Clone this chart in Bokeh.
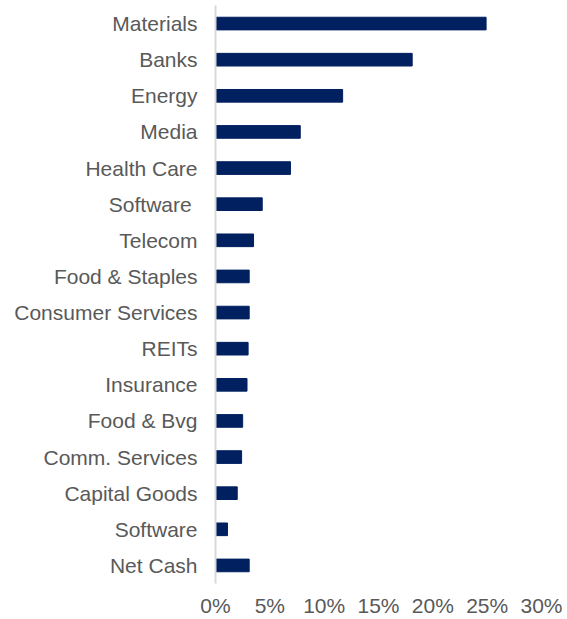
from bokeh.plotting import figure
from bokeh.models import FactorRange, Range1d, FixedTicker, PrintfTickFormatter
from bokeh.embed import file_html
from bokeh.resources import INLINE

categories = ["Materials", "Banks", "Energy", "Media", "Health Care", "Software ",
              "Telecom", "Food & Staples", "Consumer Services", "REITs", "Insurance",
              "Food & Bvg", "Comm. Services", "Capital Goods", "Software", "Net Cash"]
weights = [24.9, 18.1, 11.7, 7.8, 6.9, 4.3, 3.5, 3.1, 3.1, 3.0, 2.9, 2.5, 2.4, 2.0, 1.1, 3.1]
x_ticks = [0, 5, 10, 15, 20, 25, 30]

p = figure(width=567, height=619, output_backend="svg", toolbar_location=None,
           y_range=FactorRange(factors=list(reversed(categories)), range_padding=0),
           x_range=Range1d(0, 30),
           min_border_left=215, min_border_right=26, min_border_top=5, min_border_bottom=34)

p.hbar(y=categories, right=weights, left=0, height=0.35, color="#002060")

p.outline_line_color = None
p.xgrid.visible = False
p.ygrid.visible = False

p.xaxis.ticker = FixedTicker(ticks=x_ticks)
p.xaxis.formatter = PrintfTickFormatter(format="%d%%")
p.xaxis.axis_line_color = None
p.xaxis.major_tick_line_color = None
p.xaxis.minor_tick_line_color = None
p.xaxis.major_tick_out = 0
p.xaxis.major_tick_in = 0
p.xaxis.major_label_standoff = 10
p.xaxis.major_label_text_font = "Liberation Sans"
p.xaxis.major_label_text_font_size = "21px"
p.xaxis.major_label_text_color = "#595959"

p.yaxis.axis_line_color = "#d9d9d9"
p.yaxis.axis_line_width = 2
p.yaxis.major_tick_line_color = None
p.yaxis.minor_tick_line_color = None
p.yaxis.major_tick_out = 0
p.yaxis.major_tick_in = 0
p.yaxis.major_label_standoff = 18
p.yaxis.major_label_text_font = "Liberation Sans"
p.yaxis.major_label_text_font_size = "21px"
p.yaxis.major_label_text_color = "#595959"

open("out.html", "w").write(file_html(p, INLINE))
